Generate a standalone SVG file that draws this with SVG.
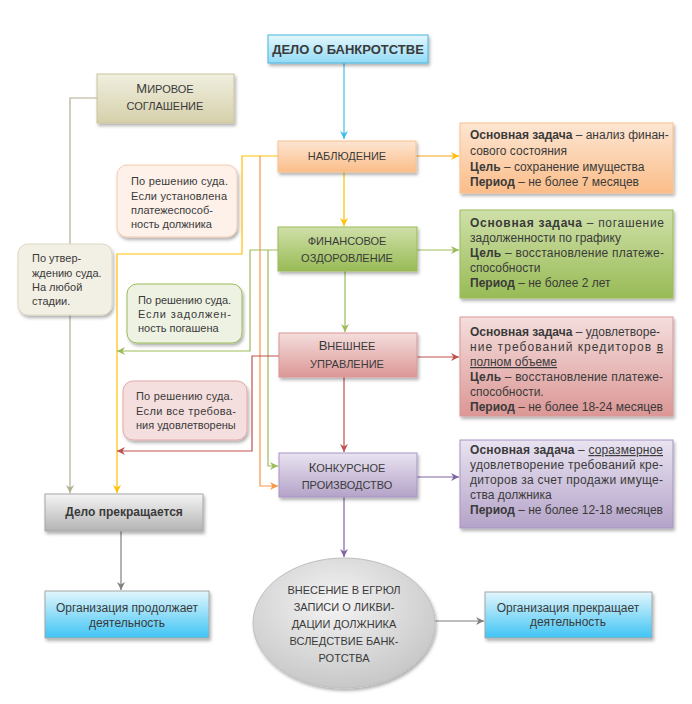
<svg xmlns="http://www.w3.org/2000/svg" width="692" height="704" viewBox="0 0 692 704">
<defs>
<linearGradient id="gBlue" x1="0" y1="0" x2="0" y2="1"><stop offset="0" stop-color="#e4f7fd"/><stop offset="1" stop-color="#92dbf6"/></linearGradient>
<linearGradient id="gOrg" x1="0" y1="0" x2="0" y2="1"><stop offset="0" stop-color="#fde6d3"/><stop offset="1" stop-color="#fbbd89"/></linearGradient>
<linearGradient id="gGrn" x1="0" y1="0" x2="0" y2="1"><stop offset="0" stop-color="#cfe0a9"/><stop offset="1" stop-color="#98bb55"/></linearGradient>
<linearGradient id="gRed" x1="0" y1="0" x2="0" y2="1"><stop offset="0" stop-color="#f4dedd"/><stop offset="1" stop-color="#db9795"/></linearGradient>
<linearGradient id="gPur" x1="0" y1="0" x2="0" y2="1"><stop offset="0" stop-color="#e9e3f1"/><stop offset="1" stop-color="#b4a3c8"/></linearGradient>
<linearGradient id="gKhk" x1="0" y1="0" x2="0" y2="1"><stop offset="0" stop-color="#f0efe0"/><stop offset="1" stop-color="#d5d0aa"/></linearGradient>
<linearGradient id="gGry" x1="0" y1="0" x2="0" y2="1"><stop offset="0" stop-color="#f5f5f5"/><stop offset="1" stop-color="#b3b3b3"/></linearGradient>
<linearGradient id="gCyan" x1="0" y1="0" x2="0" y2="1"><stop offset="0" stop-color="#e2f6fd"/><stop offset="1" stop-color="#3fc4f4"/></linearGradient>
<radialGradient id="gEll" cx="0.45" cy="0.35" r="0.7"><stop offset="0" stop-color="#f4f4f4"/><stop offset="1" stop-color="#c4c4c4"/></radialGradient>
<filter id="sh" x="-10%" y="-10%" width="125%" height="135%"><feDropShadow dx="1.5" dy="2.5" stdDeviation="1.8" flood-color="#000" flood-opacity="0.3"/></filter>
<marker id="aBlue" viewBox="0 0 8 8" refX="8" refY="4" markerWidth="8" markerHeight="8" markerUnits="userSpaceOnUse" orient="auto"><path d="M0,0 L8,4 L0,8 L2.5,4 z" fill="#43bde8"/></marker>
<marker id="aYel" viewBox="0 0 8 8" refX="8" refY="4" markerWidth="8" markerHeight="8" markerUnits="userSpaceOnUse" orient="auto"><path d="M0,0 L8,4 L0,8 L2.5,4 z" fill="#ffc000"/></marker>
<marker id="aOrg" viewBox="0 0 8 8" refX="8" refY="4" markerWidth="8" markerHeight="8" markerUnits="userSpaceOnUse" orient="auto"><path d="M0,0 L8,4 L0,8 L2.5,4 z" fill="#f79646"/></marker>
<marker id="aGrn" viewBox="0 0 8 8" refX="8" refY="4" markerWidth="8" markerHeight="8" markerUnits="userSpaceOnUse" orient="auto"><path d="M0,0 L8,4 L0,8 L2.5,4 z" fill="#9bbb59"/></marker>
<marker id="aRed" viewBox="0 0 8 8" refX="8" refY="4" markerWidth="8" markerHeight="8" markerUnits="userSpaceOnUse" orient="auto"><path d="M0,0 L8,4 L0,8 L2.5,4 z" fill="#c0504d"/></marker>
<marker id="aPur" viewBox="0 0 8 8" refX="8" refY="4" markerWidth="8" markerHeight="8" markerUnits="userSpaceOnUse" orient="auto"><path d="M0,0 L8,4 L0,8 L2.5,4 z" fill="#8064a2"/></marker>
<marker id="aGry" viewBox="0 0 8 8" refX="8" refY="4" markerWidth="8" markerHeight="8" markerUnits="userSpaceOnUse" orient="auto"><path d="M0,0 L8,4 L0,8 L2.5,4 z" fill="#7f7f7f"/></marker>
<marker id="aKhk" viewBox="0 0 8 8" refX="8" refY="4" markerWidth="8" markerHeight="8" markerUnits="userSpaceOnUse" orient="auto"><path d="M0,0 L8,4 L0,8 L2.5,4 z" fill="#b3ae8f"/></marker>
</defs>
<style>
text{font-family:"Liberation Sans",Arial,sans-serif;fill:#3a3a3a}
.c{text-anchor:middle}
.sc{font-size:11px}
.b{font-weight:bold}
.t{font-size:12px}
.s{font-size:11px}
.u{text-decoration:underline}
.ln{fill:none;stroke-width:1.2}
</style>
<rect width="692" height="704" fill="#ffffff"/>

<g id="connectors">
<path class="ln" d="M344,63 V139" stroke="#43bde8" marker-end="url(#aBlue)"/>
<path class="ln" d="M344,172 V226" stroke="#ffc000" marker-end="url(#aYel)"/>
<path class="ln" d="M345,271 V332" stroke="#9bbb59" marker-end="url(#aGrn)"/>
<path class="ln" d="M344,377 V452" stroke="#c0504d" marker-end="url(#aRed)"/>
<path class="ln" d="M344,497 V557" stroke="#8064a2" marker-end="url(#aPur)"/>
<path class="ln" d="M434,621 H484" stroke="#7f7f7f" marker-end="url(#aGry)"/>
<path class="ln" d="M121,531 V590" stroke="#7f7f7f" marker-end="url(#aGry)"/>
<path class="ln" d="M97,98 H70 V493" stroke="#b3ae8f" marker-end="url(#aKhk)"/>
<path class="ln" d="M278,156 H242 V254 H117 V493" stroke="#ffc000" marker-end="url(#aYel)"/>
<path class="ln" d="M260,156 V486 H278" stroke="#f79646" marker-end="url(#aOrg)"/>
<path class="ln" d="M278,250 H250 V351 H117" stroke="#9bbb59" marker-end="url(#aGrn)"/>
<path class="ln" d="M268,250 V466 H278" stroke="#9bbb59" marker-end="url(#aGrn)"/>
<path class="ln" d="M279,356 H252 V451 H117" stroke="#c0504d" marker-end="url(#aRed)"/>
<path class="ln" d="M416,156 H459" stroke="#f5a623" marker-end="url(#aYel)"/>
<path class="ln" d="M417,250 H459" stroke="#9bbb59" marker-end="url(#aGrn)"/>
<path class="ln" d="M417,357 H459" stroke="#c0504d" marker-end="url(#aRed)"/>
<path class="ln" d="M417,477 H459" stroke="#8064a2" marker-end="url(#aPur)"/>
</g>

<g id="n-delo">
<rect x="268" y="35" width="160" height="28" fill="url(#gBlue)" stroke="#46b5e0" filter="url(#sh)"/>
<text class="c b" x="348" y="54" font-size="13">ДЕЛО О БАНКРОТСТВЕ</text>
</g>

<g id="n-mirovoe">
<rect x="97" y="74" width="137" height="49" fill="url(#gKhk)" stroke="#c9c39e" filter="url(#sh)"/>
<text class="c sc" x="165" y="93"><tspan font-size="13">М</tspan>ИРОВОЕ</text>
<text class="c sc" x="165" y="110">СОГЛАШЕНИЕ</text>
</g>

<g id="n-nabl">
<rect x="278" y="141" width="138" height="31" fill="url(#gOrg)" stroke="#f9c08c" filter="url(#sh)"/>
<text class="c sc" x="347" y="160">НАБЛЮДЕНИЕ</text>
</g>

<g id="n-fin">
<rect x="278" y="227" width="139" height="44" fill="url(#gGrn)" stroke="#9bbb59" filter="url(#sh)"/>
<text class="c sc" x="347" y="245">ФИНАНСОВОЕ</text>
<text class="c sc" x="347" y="262">ОЗДОРОВЛЕНИЕ</text>
</g>

<g id="n-vnesh">
<rect x="279" y="333" width="138" height="44" fill="url(#gRed)" stroke="#d99694" filter="url(#sh)"/>
<text class="c sc" x="347" y="350"><tspan font-size="13">В</tspan>НЕШНЕЕ</text>
<text class="c sc" x="347" y="368">УПРАВЛЕНИЕ</text>
</g>

<g id="n-konk">
<rect x="279" y="453" width="138" height="44" fill="url(#gPur)" stroke="#a995c4" filter="url(#sh)"/>
<text class="c sc" x="347" y="472"><tspan font-size="13">К</tspan>ОНКУРСНОЕ</text>
<text class="c sc" x="347" y="489">ПРОИЗВОДСТВО</text>
</g>

<g id="n-r1">
<rect x="460" y="123" width="213" height="70" fill="url(#gOrg)" stroke="#f9c08c" filter="url(#sh)"/>
<text class="t" x="470" y="139"><tspan class="b">Основная задача</tspan> – анализ финан-</text>
<text class="t" x="470" y="155">сового состояния</text>
<text class="t" x="470" y="171"><tspan class="b">Цель</tspan> – сохранение имущества</text>
<text class="t" x="470" y="186"><tspan class="b">Период</tspan> – не более 7 месяцев</text>
</g>

<g id="n-r2">
<rect x="460" y="210" width="213" height="88" fill="url(#gGrn)" stroke="#9bbb59" filter="url(#sh)"/>
<text class="t" x="470" y="227" textLength="194" lengthAdjust="spacing"><tspan class="b">Основная задача</tspan> – погашение</text>
<text class="t" x="470" y="242">задолженности по графику</text>
<text class="t" x="470" y="257" textLength="194" lengthAdjust="spacing"><tspan class="b">Цель</tspan> – восстановление платеже-</text>
<text class="t" x="470" y="272">способности</text>
<text class="t" x="470" y="287"><tspan class="b">Период</tspan> – не более 2 лет</text>
</g>

<g id="n-r3">
<rect x="460" y="317" width="213" height="99" fill="url(#gRed)" stroke="#d99694" filter="url(#sh)"/>
<text class="t" x="470" y="336"><tspan class="b">Основная задача</tspan> – удовлетворе-</text>
<text class="t" x="470" y="351" textLength="193" lengthAdjust="spacing">ние требований кредиторов <tspan class="u">в</tspan></text>
<text class="t u" x="470" y="366">полном объеме</text>
<text class="t" x="470" y="381" textLength="193" lengthAdjust="spacing"><tspan class="b">Цель</tspan> – восстановление платеже-</text>
<text class="t" x="470" y="396">способности.</text>
<text class="t" x="470" y="411"><tspan class="b">Период</tspan> – не более 18-24 месяцев</text>
</g>

<g id="n-r4">
<rect x="460" y="440" width="213" height="88" fill="url(#gPur)" stroke="#a995c4" filter="url(#sh)"/>
<text class="t" x="470" y="454" textLength="193" lengthAdjust="spacing"><tspan class="b">Основная задача</tspan> – <tspan class="u">соразмерное</tspan></text>
<text class="t" x="470" y="469" textLength="193" lengthAdjust="spacing">удовлетворение требований кре-</text>
<text class="t" x="470" y="484" textLength="193" lengthAdjust="spacing">диторов за счет продажи имуще-</text>
<text class="t" x="470" y="499">ства должника</text>
<text class="t" x="470" y="514"><tspan class="b">Период</tspan> – не более 12-18 месяцев</text>
</g>

<g id="n-c1">
<rect x="117" y="165" width="120" height="72" rx="10" fill="#fdf1ea" stroke="#f5cbae" filter="url(#sh)"/>
<text class="s" x="131" y="185" textLength="97" lengthAdjust="spacing">По решению суда.</text>
<text class="s" x="131" y="200" textLength="96" lengthAdjust="spacing">Если  установлена</text>
<text class="s" x="131" y="214">платежеспособ-</text>
<text class="s" x="131" y="228">ность должника</text>
</g>

<g id="n-c2">
<rect x="18" y="244" width="94" height="71" rx="10" fill="#f2f0e4" stroke="#dcd8c0" filter="url(#sh)"/>
<text class="s" x="32" y="262">По утвер-</text>
<text class="s" x="32" y="277">ждению суда.</text>
<text class="s" x="32" y="291">На любой</text>
<text class="s" x="32" y="305">стадии.</text>
</g>

<g id="n-c3">
<rect x="127" y="284" width="115" height="59" rx="10" fill="#eef2e3" stroke="#9bbb59" filter="url(#sh)"/>
<text class="s" x="138" y="304" textLength="93" lengthAdjust="spacing">По решению суда.</text>
<text class="s" x="138" y="318" textLength="93" lengthAdjust="spacing">Если    задолжен-</text>
<text class="s" x="138" y="332">ность погашена</text>
</g>

<g id="n-c4">
<rect x="123" y="381" width="124" height="59" rx="10" fill="#f5dede" stroke="#e2a8a6" filter="url(#sh)"/>
<text class="s" x="136" y="400" textLength="97" lengthAdjust="spacing">По решению суда.</text>
<text class="s" x="136" y="415" textLength="100" lengthAdjust="spacing">Если  все  требова-</text>
<text class="s" x="136" y="429">ния удовлетворены</text>
</g>

<g id="n-stop">
<rect x="45" y="494" width="158" height="37" fill="url(#gGry)" stroke="#a6a6a6" filter="url(#sh)"/>
<text class="c b" x="124" y="516" font-size="12">Дело прекращается</text>
</g>

<g id="n-cont">
<rect x="45" y="591" width="164" height="47" fill="url(#gCyan)" stroke="#a6a6a6" filter="url(#sh)"/>
<text class="c t" x="127" y="612">Организация продолжает</text>
<text class="c t" x="127" y="627">деятельность</text>
</g>

<g id="n-egrul">
<ellipse cx="344" cy="623" rx="91" ry="65" fill="url(#gEll)" stroke="#bfbfbf" filter="url(#sh)"/>
<text class="c sc" x="344" y="594">ВНЕСЕНИЕ В ЕГРЮЛ</text>
<text class="c sc" x="344" y="611">ЗАПИСИ О ЛИКВИ-</text>
<text class="c sc" x="344" y="628">ДАЦИИ ДОЛЖНИКА</text>
<text class="c sc" x="344" y="645">ВСЛЕДСТВИЕ БАНК-</text>
<text class="c sc" x="344" y="662">РОТСТВА</text>
</g>

<g id="n-end">
<rect x="485" y="592" width="167" height="46" fill="url(#gCyan)" stroke="#a6a6a6" filter="url(#sh)"/>
<text class="c t" x="568" y="612">Организация прекращает</text>
<text class="c t" x="568" y="626">деятельность</text>
</g>
</svg>
